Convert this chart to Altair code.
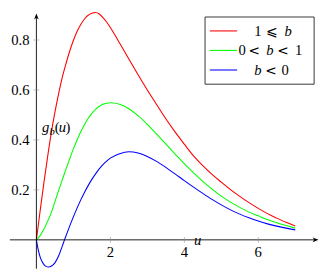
import altair as alt
import pandas as pd

# ---------------- data ----------------
series_names = ["1 ⩽ b", "0 < b < 1", "b < 0"]
series_colors = ["#ff0000", "#00ff00", "#0000ff"]

red_u = [0, 0.1, 0.2, 0.3, 0.4, 0.5, 0.6, 0.7, 0.8, 0.9, 1.0, 1.1, 1.2, 1.3, 1.4, 1.5, 1.6,
         1.7, 1.8, 1.9, 2.0, 2.1, 2.25, 2.5, 2.75, 3.0, 3.25, 3.5, 3.75, 4.0, 4.25, 4.5,
         4.75, 5.0, 5.25, 5.5, 5.75, 6.0, 6.25, 6.5, 6.75, 7.0]
red_v = [0, 0.115, 0.225, 0.329, 0.426, 0.51, 0.584, 0.65, 0.705, 0.755, 0.798, 0.834, 0.862,
         0.884, 0.899, 0.907, 0.91, 0.904, 0.89, 0.872, 0.85, 0.826, 0.788, 0.724, 0.661, 0.60,
         0.542, 0.485, 0.432, 0.383, 0.336, 0.297, 0.262, 0.231, 0.201, 0.174, 0.149, 0.126,
         0.105, 0.087, 0.07, 0.055]

green_u = [0, 0.1, 0.2, 0.3, 0.4, 0.5, 0.6, 0.7, 0.8, 0.9, 1.0, 1.1, 1.2, 1.3, 1.4, 1.5, 1.6,
           1.7, 1.8, 1.9, 2.0, 2.25, 2.5, 2.75, 3.0, 3.25, 3.5, 3.75, 4.0, 4.25, 4.5, 4.75,
           5.0, 5.25, 5.5, 5.75, 6.0, 6.25, 6.5, 6.75, 7.0]
green_v = [0, 0.017, 0.042, 0.073, 0.108, 0.152, 0.197, 0.24, 0.283, 0.324, 0.364, 0.40, 0.433,
           0.461, 0.486, 0.506, 0.522, 0.535, 0.543, 0.547, 0.549, 0.543, 0.525, 0.497, 0.462,
           0.423, 0.384, 0.343, 0.305, 0.268, 0.234, 0.203, 0.175, 0.151, 0.13, 0.111, 0.096,
           0.081, 0.068, 0.057, 0.047]

blue_u = [0, 0.05, 0.1, 0.15, 0.2, 0.25, 0.33, 0.4, 0.5, 0.6, 0.7, 0.76, 0.8, 0.9, 1.0, 1.1,
          1.2, 1.3, 1.4, 1.5, 1.6, 1.7, 1.8, 1.9, 2.0, 2.25, 2.5, 2.75, 3.0, 3.25, 3.5, 3.75,
          4.0, 4.25, 4.5, 4.75, 5.0, 5.25, 5.5, 5.75, 6.0, 6.25, 6.5, 6.75, 7.0]
blue_v = [0, -0.04, -0.068, -0.086, -0.098, -0.105, -0.109, -0.106, -0.092, -0.065, -0.025, 0,
          0.016, 0.055, 0.092, 0.127, 0.16, 0.19, 0.217, 0.242, 0.264, 0.284, 0.301, 0.315,
          0.327, 0.345, 0.353, 0.348, 0.334, 0.314, 0.29, 0.264, 0.237, 0.211, 0.186, 0.162,
          0.14, 0.12, 0.103, 0.088, 0.075, 0.064, 0.055, 0.047, 0.04]

x_ticks = [2, 4, 6]
y_ticks = [0.2, 0.4, 0.6, 0.8]
x_title = "u"
y_title_parts = ["g", "b", "(", "u", ")"]

# ---------------- layout ----------------
W, H = 320, 264
U_MIN, U_MAX = -0.768, 7.670
V_MIN, V_MAX = -0.1155, 0.9149
FONT = "Liberation Serif"
SYMFONT = "DejaVu Serif"
FS = 15


def ref_to_data(rx, ry):
    """reference-picture pixel -> data coordinates"""
    return (rx - 30.7) / 38.65, (241.5 - ry) / 264.0


xs = alt.Scale(domain=[U_MIN, U_MAX], nice=False, zero=False)
ys = alt.Scale(domain=[V_MIN, V_MAX], nice=False, zero=False)


def X(field):
    return alt.X(field, type="quantitative", scale=xs, axis=None, title=None)


def Y(field):
    return alt.Y(field, type="quantitative", scale=ys, axis=None, title=None)


rows = []
for name, us, vs in zip(series_names, [red_u, green_u, blue_u], [red_v, green_v, blue_v]):
    for u, v in zip(us, vs):
        rows.append({"series": name, "u": u, "v": v})
curves_df = pd.DataFrame(rows)

color_enc = alt.Color("series:N", scale=alt.Scale(domain=series_names, range=series_colors), legend=None)

curves = alt.Chart(curves_df).mark_line(strokeWidth=1.1, interpolate="monotone").encode(
    x=X("u"), y=Y("v"), color=color_enc, detail="series:N")

# axis lines
ax0, _ = ref_to_data(3, 0)
ax1, _ = ref_to_data(323, 0)
_, ay0 = ref_to_data(0, 272)
_, ay1 = ref_to_data(0, 5)
axes_df = pd.DataFrame({"x": [ax0, 0], "x2": [ax1, 0], "y": [0, ay0], "y2": [0, ay1]})
axis_lines = alt.Chart(axes_df).mark_rule(color="black", strokeWidth=0.9).encode(
    x=X("x"), x2="x2", y=Y("y"), y2="y2")

arrow_path = "M 1 0 L -1 -0.8 L -0.45 0 L -1 0.8 Z"
axr, _ = ref_to_data(322.5, 0)
_, aru = ref_to_data(0, 5.5)
arrows_df = pd.DataFrame({"x": [axr, 0], "y": [0, aru], "ang": [0, 270]})
arrows = alt.Chart(arrows_df).mark_point(shape=arrow_path, filled=True, color="black", size=36,
                                         opacity=1).encode(
    x=X("x"), y=Y("y"), angle=alt.Angle("ang:Q", scale=None))

# tick marks crossing the axes, and their labels
xt_df = pd.DataFrame({"x": x_ticks, "y": [0] * len(x_ticks), "lab": [str(t) for t in x_ticks]})
yt_df = pd.DataFrame({"x": [0] * len(y_ticks), "y": y_ticks, "lab": [f"{t:.1f}" for t in y_ticks]})
xt = alt.Chart(xt_df).mark_tick(orient="vertical", size=6, thickness=0.8, color="#8c8c8c").encode(
    x=X("x"), y=Y("y"))
yt = alt.Chart(yt_df).mark_tick(orient="horizontal", size=6, thickness=0.8, color="#8c8c8c").encode(
    x=X("x"), y=Y("y"))
xl = alt.Chart(xt_df).mark_text(font=FONT, fontSize=FS, align="center", baseline="alphabetic",
                                dy=18, color="black").encode(x=X("x"), y=Y("y"), text="lab:N")
yl = alt.Chart(yt_df).mark_text(font=FONT, fontSize=FS, align="right", baseline="alphabetic",
                                dx=-7, dy=5, color="black").encode(x=X("x"), y=Y("y"), text="lab:N")

# text pieces: (text, ref x left, ref y baseline, style, size)
# style: i = italic serif, n = upright serif, s = symbol font
pieces = [
    (y_title_parts[0], 36.5, 128, "i", FS),
    (y_title_parts[1], 44.5, 131, "i", 11),
    (y_title_parts[2], 50, 128, "n", FS),
    (y_title_parts[3], 54, 128, "i", FS),
    (y_title_parts[4], 61, 128, "n", FS),
    (x_title, 195.5, 246.5, "i", FS),
    # legend row 1 : 1 ⩽ b
    ("1", 258.5, 26, "n", FS), ("⩽", 270.5, 26.5, "s", 14), ("b", 290, 26, "i", FS),
    # legend row 2 : 0 < b < 1
    ("0", 242, 46.5, "n", FS), ("<", 252.5, 46.5, "s", 14), ("b", 271, 46.5, "i", FS),
    ("<", 282.5, 46.5, "s", 14), ("1", 301, 46.5, "n", FS),
    # legend row 3 : b < 0
    ("b", 258.5, 67, "i", FS), ("<", 270, 67, "s", 14), ("0", 287, 67, "n", FS),
]
trows = []
for t, rx, ry, st, sz in pieces:
    u, v = ref_to_data(rx, ry)
    trows.append({"t": t, "x": u, "y": v, "st": st, "sz": sz, "leg": ry < 80})
text_df = pd.DataFrame(trows)


def text_layer(style, legend):
    sub = text_df[(text_df["st"] == style) & (text_df["leg"] == legend)]
    return alt.Chart(sub).mark_text(
        font=SYMFONT if style == "s" else FONT, fontStyle="italic" if style == "i" else "normal",
        align="left", baseline="alphabetic", color="black").encode(
        x=X("x"), y=Y("y"), text="t:N", size=alt.Size("sz:Q", scale=None))


# legend box and samples
bx0, by0 = ref_to_data(207, 6)
bx1, by1 = ref_to_data(321, 77)
box = alt.Chart(pd.DataFrame({"x": [bx0], "x2": [bx1], "y": [by0], "y2": [by1]})).mark_rect(
    fill="white", stroke="#333333", strokeWidth=1).encode(x=X("x"), x2="x2", y=Y("y"), y2="y2")

lrows = []
for name, ry in zip(series_names, [20.7, 41.3, 62]):
    lx0, ly = ref_to_data(212, ry)
    lx1, _ = ref_to_data(240.5, ry)
    lrows.append({"series": name, "x": lx0, "x2": lx1, "y": ly})
leg_lines = alt.Chart(pd.DataFrame(lrows)).mark_rule(strokeWidth=1.1).encode(
    x=X("x"), x2="x2", y=Y("y"), color=color_enc)

chart = alt.layer(
    curves, axis_lines, xt, yt, xl, yl, arrows,
    text_layer("i", False), text_layer("n", False),
    box, leg_lines,
    text_layer("i", True), text_layer("n", True), text_layer("s", True),
).properties(
    width=W, height=H, padding=0, autosize=alt.AutoSizeParams(type="none"), background="white"
).configure_view(stroke=None)

chart.save("out.html", embed_options={"renderer": "svg", "actions": False})
